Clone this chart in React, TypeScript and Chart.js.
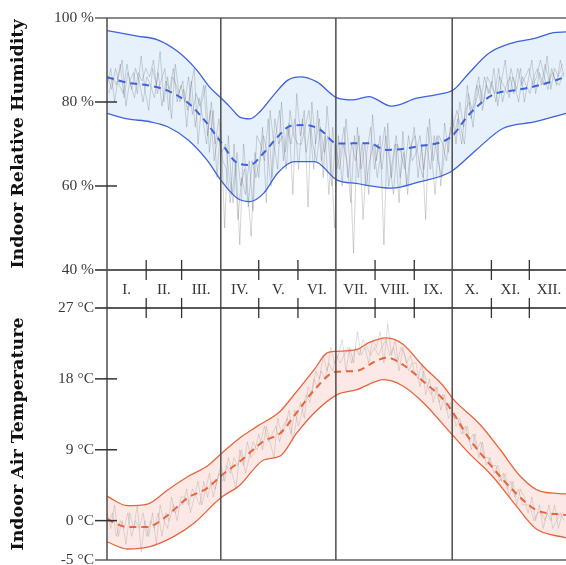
import React, { useEffect, useRef } from 'react';
import { Chart, registerables } from 'chart.js';

Chart.register(...registerables);

// ---- categories / axes ----
const MONTH_LABELS = ['I.', 'II.', 'III.', 'IV.', 'V.', 'VI.', 'VII.', 'VIII.', 'IX.', 'X.', 'XI.', 'XII.'];
const MONTH_STARTS = [0, 31, 59, 90, 120, 151, 181, 212, 243, 273, 304, 334, 365];
const QUARTER_DAYS = [90, 181, 273];
const X_MAX = 363;

const HUM_TICKS = [40, 60, 80, 100];
const TEMP_TICKS = [-5, 0, 9, 18, 27];

// ---- humidity (%) ----
const humUpperDays = [0, 24, 40, 56, 71, 81, 90, 98, 105, 113, 121, 132, 143, 153, 166, 182, 195, 207, 225, 245, 260, 274, 286, 302, 321, 339, 353, 363];
const humUpper = [97.0, 95.7, 94.8, 92.0, 87.6, 83.6, 81.0, 78.6, 76.4, 76.0, 77.7, 81.7, 85.2, 86.0, 84.8, 81.0, 80.5, 81.3, 79.0, 80.9, 81.7, 82.9, 86.8, 91.6, 94.1, 95.2, 96.5, 96.7];
const humMeanDays = [0, 16, 32, 48, 64, 77, 90, 103, 113, 124, 135, 145, 158, 169, 182, 207, 221, 245, 272, 286, 305, 325, 342, 363];
const humMean = [85.9, 84.6, 84.0, 82.7, 79.8, 75.7, 70.5, 65.5, 65.0, 67.9, 71.7, 74.3, 74.5, 73.3, 70.1, 70.2, 68.6, 69.4, 71.7, 76.9, 81.7, 82.9, 84.0, 86.0];
const humLowerDays = [0, 16, 34, 48, 64, 79, 90, 103, 113, 124, 135, 148, 164, 182, 197, 225, 247, 272, 292, 313, 339, 363];
const humLower = [77.3, 76.0, 75.3, 74.1, 71.0, 66.2, 61.4, 57.1, 56.3, 58.3, 63.1, 65.8, 65.8, 61.4, 60.6, 59.5, 61.0, 63.4, 68.6, 73.7, 75.3, 77.3];

// raw measured humidity, sampled every 3 days (three overlapping records)
const humRawA = [
  84, 88, 80, 86, 90, 79, 85, 87, 82, 91, 83,
  78, 88, 84, 92, 80, 86, 76, 89, 82,
  85, 74, 83, 88, 70, 80, 84, 68, 78, 62, 75,
  50, 72, 58, 66, 46, 70, 60, 48, 68,
  62, 74, 56, 78, 70, 64, 80, 68, 75, 58, 82,
  72, 78, 55, 80, 70, 76, 62, 79, 68, 50,
  72, 60, 76, 66, 44, 74, 64, 70, 58, 77,
  66, 72, 46, 75, 62, 70, 56, 73, 60, 68,
  74, 62, 70, 52, 76, 66, 72, 60, 75, 68,
  78, 70, 80, 74, 84, 76, 82, 86, 78, 84,
  82, 88, 79, 85, 90, 81, 86, 83, 88, 80,
  85, 90, 82, 87, 84, 91, 83, 88, 86, 89,
];
const humRawB = [
  82, 86, 84, 89, 81, 87, 83, 88, 85, 80, 86,
  84, 81, 87, 79, 85, 83, 88, 80, 84,
  80, 86, 77, 82, 79, 84, 72, 80, 70, 76, 66,
  64, 56, 70, 52, 62, 58, 66, 54, 72,
  70, 66, 76, 62, 72, 78, 66, 74, 70, 76, 64,
  76, 68, 74, 64, 78, 66, 72, 58, 74, 64,
  68, 74, 62, 70, 66, 72, 52, 68, 74, 64,
  70, 64, 72, 66, 58, 70, 68, 64, 72, 66,
  68, 72, 64, 74, 68, 58, 72, 70, 66, 74,
  72, 76, 70, 78, 80, 74, 84, 80, 86, 82,
  85, 80, 86, 84, 82, 88, 84, 80, 86, 84,
  82, 86, 88, 84, 89, 85, 87, 84, 90, 86,
];
const humRawC = [
  86, 83, 88, 84, 82, 89, 84, 81, 87, 85, 88,
  86, 90, 82, 85, 88, 78, 86, 84, 80,
  83, 78, 85, 74, 81, 76, 70, 78, 66, 72, 68,
  70, 62, 56, 68, 60, 64, 55, 66, 62,
  66, 72, 68, 60, 76, 70, 72, 64, 78, 72, 70,
  70, 74, 78, 70, 66, 74, 68, 72, 60, 70,
  64, 70, 66, 56, 72, 62, 70, 60, 66, 70,
  62, 68, 74, 60, 66, 72, 62, 68, 58, 70,
  72, 66, 62, 70, 64, 72, 66, 62, 70, 72,
  74, 78, 74, 70, 82, 78, 80, 84, 80, 86,
  84, 82, 88, 80, 84, 86, 82, 88, 84, 86,
  88, 84, 86, 90, 86, 83, 88, 85, 84, 87,
];

// ---- temperature (°C) ----
const tempUpperDays = [0, 16, 32, 48, 64, 79, 91, 105, 119, 137, 146, 164, 174, 181, 197, 207, 221, 234, 250, 266, 274, 295, 311, 327, 343, 363];
const tempUpper = [3.1, 1.9, 2.1, 3.9, 5.6, 6.9, 8.6, 10.5, 12.0, 13.9, 15.6, 19.2, 21.3, 21.5, 21.7, 22.6, 23.2, 22.4, 19.6, 17.1, 15.4, 12.2, 9.0, 5.6, 3.7, 3.4];
const tempMeanDays = [0, 16, 32, 45, 64, 79, 91, 105, 124, 137, 150, 164, 181, 197, 213, 221, 234, 250, 268, 287, 303, 319, 339, 363];
const tempMean = [0.2, -0.8, -0.8, 0.3, 2.9, 4.1, 5.8, 7.5, 10.1, 11.1, 13.7, 16.6, 18.9, 19.0, 20.3, 20.7, 19.8, 17.7, 15.0, 10.3, 7.1, 4.2, 1.4, 0.7];
const tempLowerDays = [0, 16, 34, 53, 69, 90, 105, 124, 137, 150, 164, 182, 197, 219, 234, 250, 273, 286, 305, 324, 339, 363];
const tempLower = [-2.7, -3.6, -3.3, -2.0, -0.3, 2.9, 4.5, 7.7, 8.2, 11.1, 13.7, 16.0, 16.6, 17.9, 17.1, 15.0, 10.9, 8.6, 5.6, 1.8, -1.0, -2.2];

// raw measured temperature, sampled every 3 days (two overlapping records)
const tempRawA = [
  1, -1, 2, -2, 0, -3, 1, -1, 2, -4, 0,
  -2, 1, -3, 2, 0, -1, 3, 1, 2,
  2, 4, 1, 3, 5, 2, 4, 6, 3, 5, 7,
  5, 8, 6, 4, 9, 7, 10, 8, 9,
  11, 9, 12, 10, 8, 13, 11, 12, 14, 10, 13,
  15, 13, 17, 16, 19, 18, 21, 19, 22, 20,
  21, 23, 19, 22, 20, 24, 21, 22, 20, 23,
  22, 24, 20, 25, 21, 23, 19, 22, 20, 21,
  19, 18, 20, 16, 18, 15, 17, 14, 16, 13,
  14, 12, 13, 11, 12, 9, 11, 8, 10, 7,
  8, 6, 7, 5, 6, 3, 5, 2, 4, 3,
  1, 3, 0, 2, -1, 1, 0, 2, -1, 1,
];
const tempRawB = [
  0, 1, -2, 0, -1, 1, -2, 0, -1, 1, -2,
  0, -1, 1, -2, 1, 0, 2, 0, 3,
  3, 2, 4, 3, 2, 5, 3, 5, 4, 6, 5,
  7, 6, 8, 7, 9, 6, 8, 10, 9,
  10, 12, 10, 11, 12, 10, 12, 13, 11, 14, 12,
  14, 16, 15, 18, 17, 19, 18, 20, 19, 21,
  20, 21, 22, 20, 22, 21, 23, 22, 21, 22,
  21, 22, 23, 21, 22, 20, 22, 21, 19, 20,
  20, 17, 19, 17, 16, 17, 15, 16, 14, 15,
  13, 13, 11, 12, 10, 11, 9, 10, 8, 8,
  7, 7, 5, 6, 4, 5, 3, 4, 2, 2,
  2, 0, 1, 1, 0, 2, -1, 0, 1, 0,
];
const RAW_STEP = 3;

// ---- layout / styling ----
const W = 566;
const H = 565;
const AXIS_W = 107;
const TOP_PAD = 18;
const TOP_BOTTOM = 270;
const BAND_H = 38;
const BOT_TOP = TOP_BOTTOM + BAND_H;
const BOT_BOTTOM = 560;
const SERIF = "'Liberation Serif', 'DejaVu Serif', serif";
const TITLE_FONT = "'DejaVu Serif', serif";
const AXIS_COLOR = '#4d4d4d';

const pts = (xs: number[], ys: number[]) => xs.map((x, i) => ({ x, y: ys[i] }));
const rawPts = (ys: number[], offset: number) => ys.map((y, i) => ({ x: i * RAW_STEP + offset, y }));

function line(ctx: CanvasRenderingContext2D, x1: number, y1: number, x2: number, y2: number, color: string, w: number) {
  ctx.beginPath();
  ctx.strokeStyle = color;
  ctx.lineWidth = w;
  ctx.moveTo(x1, y1);
  ctx.lineTo(x2, y2);
  ctx.stroke();
}

function decorPlugin(kind: 'top' | 'bottom') {
  return {
    id: 'decor-' + kind,
    afterDraw(chart: any) {
      const { ctx, chartArea, scales } = chart;
      const xs = scales.x;
      const ys = scales.y;
      const { left, right, top, bottom } = chartArea;
      ctx.save();
      ctx.lineCap = 'butt';
      if (kind === 'top') {
        const bandBottom = bottom + BAND_H;
        line(ctx, left - 12, top, right, top, '#8a8a8a', 2);
        line(ctx, left - 12, bottom, right, bottom, '#222', 1.5);
        line(ctx, left, top, left, bandBottom, AXIS_COLOR, 1.5);
        HUM_TICKS.forEach((t) => {
          if (t === 40 || t === 100) return;
          const y = ys.getPixelForValue(t);
          line(ctx, left - 12, y, left + 10, y, '#333', 1.5);
        });
        QUARTER_DAYS.forEach((d) => {
          const x = xs.getPixelForValue(d);
          line(ctx, x, top, x, bandBottom, AXIS_COLOR, 1.5);
        });
        MONTH_STARTS.forEach((d) => {
          if (d === 0 || d === 365 || QUARTER_DAYS.includes(d)) return;
          const x = xs.getPixelForValue(d);
          line(ctx, x, bottom - 10, x, bottom + 10, '#333', 1.3);
          line(ctx, x, bandBottom - 10, x, bandBottom + 10, '#333', 1.3);
        });
        ctx.fillStyle = '#333';
        ctx.font = `15px ${SERIF}`;
        ctx.textAlign = 'center';
        ctx.textBaseline = 'middle';
        MONTH_LABELS.forEach((m, i) => {
          const mid = (MONTH_STARTS[i] + MONTH_STARTS[i + 1]) / 2;
          const x = xs.getPixelForValue(mid);
          ctx.fillText(m, x, (bottom + bandBottom) / 2 + 1);
        });
      } else {
        line(ctx, left - 12, top, right, top, '#222', 1.5);
        line(ctx, left - 12, bottom, right, bottom, '#8a8a8a', 2);
        line(ctx, left, top, left, bottom, AXIS_COLOR, 1.5);
        TEMP_TICKS.forEach((t) => {
          if (t === -5 || t === 27) return;
          const y = ys.getPixelForValue(t);
          line(ctx, left - 12, y, left + 10, y, '#333', 1.5);
        });
        QUARTER_DAYS.forEach((d) => {
          const x = xs.getPixelForValue(d);
          line(ctx, x, top, x, bottom, AXIS_COLOR, 1.5);
        });
      }
      ctx.restore();
    },
  };
}

function yAxis(min: number, max: number, ticks: number[], unit: string, title: string) {
  return {
    type: 'linear',
    min,
    max,
    afterBuildTicks: (scale: any) => {
      scale.ticks = ticks.map((v) => ({ value: v }));
    },
    afterFit: (scale: any) => {
      scale.width = AXIS_W;
      scale.paddingTop = 0;
      scale.paddingBottom = 0;
    },
    ticks: {
      padding: 13,
      color: '#3a3a3a',
      font: { family: SERIF, size: 15.5 },
      callback: (v: any) => `${v} ${unit}`,
    },
    grid: { display: false, drawTicks: false },
    border: { display: false },
    title: {
      display: true,
      text: title,
      color: '#111',
      font: { family: TITLE_FONT, size: 17.5, weight: 'bold' },
      padding: { top: 8, bottom: 0 },
    },
  };
}

function baseOptions(padding: any, y: any) {
  return {
    responsive: false,
    animation: false,
    events: [],
    layout: { padding },
    plugins: {
      legend: { display: false },
      tooltip: { enabled: false },
      filler: { drawTime: 'beforeDatasetsDraw' },
    },
    elements: { point: { radius: 0 } },
    scales: {
      x: { type: 'linear', min: 0, max: X_MAX, display: false },
      y,
    },
  };
}

export default function App() {
  const topRef = useRef<HTMLCanvasElement>(null);
  const botRef = useRef<HTMLCanvasElement>(null);

  useEffect(() => {
    const blue = '#3d62dc';
    const blueFill = 'rgba(212, 230, 249, 0.55)';
    const red = '#e8643c';
    const redFill = 'rgba(250, 212, 203, 0.5)';
    const grey = 'rgba(80, 80, 80, 0.3)';
    const greyLight = 'rgba(100, 100, 100, 0.25)';

    const top = new Chart(topRef.current as HTMLCanvasElement, {
      type: 'line',
      data: {
        datasets: [
          { data: pts(humMeanDays, humMean), borderColor: blue, borderWidth: 2, borderDash: [7, 5], fill: false, cubicInterpolationMode: 'monotone' },
          { data: pts(humUpperDays, humUpper), borderColor: blue, borderWidth: 1.3, fill: '+1', backgroundColor: blueFill, cubicInterpolationMode: 'monotone' },
          { data: pts(humLowerDays, humLower), borderColor: blue, borderWidth: 1.3, fill: false, cubicInterpolationMode: 'monotone' },
          { data: rawPts(humRawA, 0), borderColor: grey, borderWidth: 0.8, fill: false, tension: 0 },
          { data: rawPts(humRawB, 1.5), borderColor: grey, borderWidth: 0.8, fill: false, tension: 0 },
          { data: rawPts(humRawC, 0.75), borderColor: grey, borderWidth: 0.8, fill: false, tension: 0 },
        ],
      } as any,
      options: baseOptions(
        { top: TOP_PAD, bottom: H - TOP_BOTTOM, left: 0, right: 0 },
        yAxis(40, 100, HUM_TICKS, '%', 'Indoor Relative Humidity'),
      ) as any,
      plugins: [decorPlugin('top')],
    });

    const bot = new Chart(botRef.current as HTMLCanvasElement, {
      type: 'line',
      data: {
        datasets: [
          { data: pts(tempMeanDays, tempMean), borderColor: red, borderWidth: 2, borderDash: [7, 5], fill: false, cubicInterpolationMode: 'monotone' },
          { data: pts(tempUpperDays, tempUpper), borderColor: red, borderWidth: 1.3, fill: '+1', backgroundColor: redFill, cubicInterpolationMode: 'monotone' },
          { data: pts(tempLowerDays, tempLower), borderColor: red, borderWidth: 1.3, fill: false, cubicInterpolationMode: 'monotone' },
          { data: rawPts(tempRawA, 0), borderColor: greyLight, borderWidth: 0.8, fill: false, tension: 0 },
          { data: rawPts(tempRawB, 1.5), borderColor: greyLight, borderWidth: 0.8, fill: false, tension: 0 },
        ],
      } as any,
      options: baseOptions(
        { top: BOT_TOP, bottom: H - BOT_BOTTOM, left: 0, right: 0 },
        yAxis(-5, 27, TEMP_TICKS, '°C', 'Indoor Air Temperature'),
      ) as any,
      plugins: [decorPlugin('bottom')],
    });

    return () => {
      top.destroy();
      bot.destroy();
    };
  }, []);

  return (
    <div style={{ position: 'fixed', left: 0, top: 0, width: W, height: H, background: '#fff', overflow: 'hidden' }}>
      <canvas ref={topRef} width={W} height={H} style={{ position: 'absolute', left: 0, top: 0 }} />
      <canvas ref={botRef} width={W} height={H} style={{ position: 'absolute', left: 0, top: 0 }} />
    </div>
  );
}
